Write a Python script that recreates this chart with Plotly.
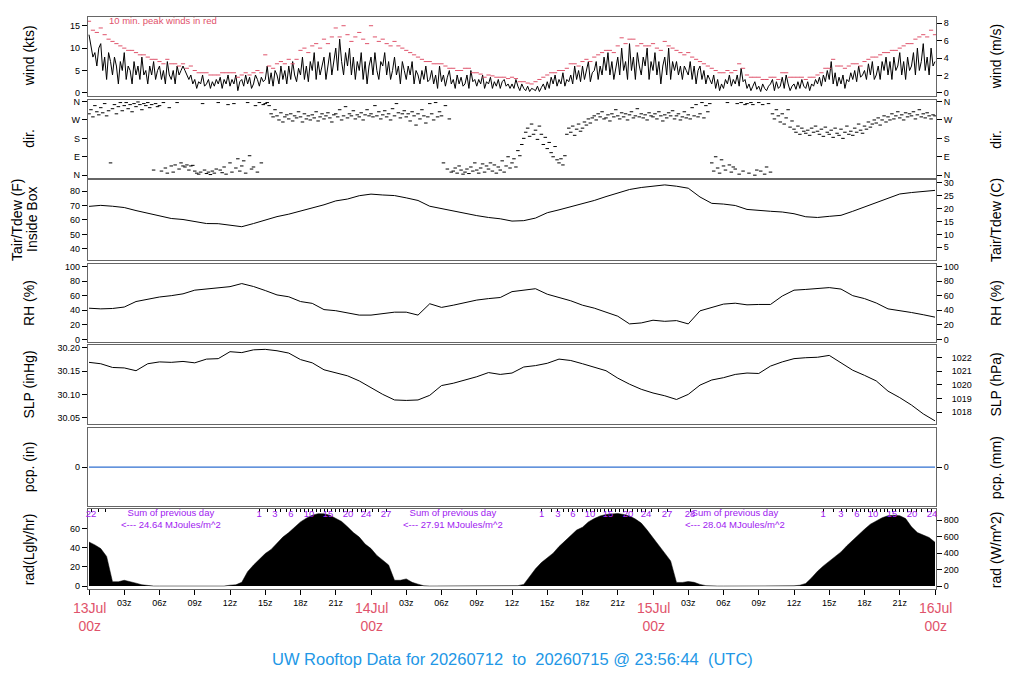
import numpy as np
import plotly.graph_objects as go

# wind speed (kts), 10-minute samples starting 13Jul 00z
wind_d1 = [13, 10, 8, 9, 6, 10, 11, 5, 8, 3, 9, 7, 4, 8, 6, 2, 7, 5, 9, 3, 6, 5, 2, 7,
           4, 6, 3, 8, 4, 5, 2, 6, 4, 7, 3, 5, 6, 3, 5, 2, 7, 4, 3, 5, 2, 6, 4, 5,
           6, 5, 4, 3, 4, 2, 3, 1, 2.5, 2, 4, 1.5, 2, 3, 1, 2.5, 1.5, 3, 2, 3.5, 1, 3, 2, 4,
           1.5, 3, 2, 4, 0.5, 2.5, 3, 1.5, 4, 2, 3.5, 1, 2, 4, 3, 1.5, 3.5, 2.5, 3, 6, 2, 4.5, 1.5, 5,
           4, 2, 6, 3, 5, 2, 6, 3, 7, 4, 2.5, 5.5, 4, 8, 3, 6, 2.5, 7, 5, 9, 3, 7, 4, 6,
           8, 3, 6, 9, 4, 7, 10, 5, 12, 7, 4, 9, 6, 10, 4, 8, 3, 7, 5, 9, 3, 7, 2, 6]
wind_d2 = [8, 4, 9, 5, 3, 7, 6, 9, 4, 7, 3, 5, 8, 4, 6, 2, 7, 5, 3, 6, 4, 7, 2, 5,
           4, 2, 5, 3, 6, 2.5, 3, 5, 2, 4, 1, 6, 2.5, 4, 1.5, 3.5, 5, 2, 3, 1, 4, 2, 3.5, 1.5,
           2, 4, 1, 5, 2.5, 3, 1.5, 3, 2, 4, 1, 2.5, 2, 3.5, 1, 2.5, 1.5, 3, 1, 2.5, 3, 1.5, 2, 1,
           2, 1, 3, 1.5, 0.5, 2, 1, 0.5, 1.5, 0.3, 1, 0.8, 0.5, 1.5, 0.3, 1.2, 2, 0.7,
           2.5, 1, 3.5, 2, 4, 1.5, 3, 2, 4.5, 1.5, 3, 2.5, 4, 2, 6, 3, 5, 2.5, 6, 3, 5, 7, 2.5, 4.5,
           5, 7, 3, 6, 4, 8, 5, 9, 4, 7, 3, 6, 8, 4, 10, 5, 7, 3, 11, 5, 8, 3, 9, 6, 4, 8, 6, 10, 3, 7]
wind_d3 = [5, 9, 4, 7, 2, 6, 8, 4, 10, 3, 7, 5, 7, 4, 6, 3, 6, 5, 4, 7, 3, 6, 2, 5,
           6, 3, 5, 2, 4, 3, 2, 4, 1, 3, 0.5, 2, 1, 3, 2, 4, 1.5, 3, 2, 4, 1.5, 5.5, 2.5, 3,
           1, 2, 0.5, 1.5, 2.5, 0.8, 1.5, 0.3, 2, 1, 0.5, 1.5, 2, 3, 0.5, 2.5, 1, 1.5,
           3.5, 1, 4, 2, 0.5, 1.5, 2, 0.8, 2.5, 1, 3, 1.5, 1, 2.5, 0.5, 2, 1.5, 3,
           2, 3.5, 1.5, 4, 2.5, 5, 3, 7, 2, 4.5, 1.5, 3.5, 2, 4, 1, 3, 2.5, 4.5, 3, 5, 2.5, 6, 3.5, 4,
           5, 3, 6.5, 4, 7, 3, 4, 6, 3, 7, 5, 8, 4, 7, 3, 8, 5, 6, 9, 4, 7, 3, 8, 5,
           6, 9, 4, 10, 5, 7, 11, 5, 8, 4, 10, 6, 7]

# 10 min. peak winds (kts), 20-minute samples
peak_d1 = [16, 14, 13.5, 14.5, 13, 12, 11.5, 11, 10.5, 10, 9.5, 9.5, 9, 8.5, 8.5, 8, 7.5, 7.5,
           7, 6.5, 7.5, 6.5, 6.5, 6, 6.5, 5.5, 6, 5, 4.5, 4.5, 4.5, 4, 4, 4, 4.5, 4.5,
           4.5, 4.5, 3.5, 4, 4.5, 4, 4.5, 5, 4.5, 8.5, 6, 5.5, 6.5, 7, 6.5, 7.5, 6.5, 7.5,
           9.5, 10, 9, 10.5, 11, 10, 12, 11, 12.5, 14.5, 12.5, 15, 13, 11.5, 12.5, 13.5, 12, 11]
peak_d2 = [15, 12.5, 11.5, 12, 11, 10.5, 11.5, 10.5, 10, 9.5, 9, 8.5, 8, 7.5, 7, 7, 6.5, 6.5,
           6.5, 6, 5.5, 5.5, 5, 5, 5.5, 5.5, 4.5, 4.5, 4.2, 3.5, 4, 3.8, 3.5, 3.5, 3.5, 3.2,
           3.5, 3.2, 2.5, 2.5, 2.2, 2, 2.5, 3, 3.5, 4, 4.5, 4.5, 5, 5, 5.5, 6.5, 6.5, 6,
           7, 7.5, 7, 8, 8.5, 9, 9.5, 9.5, 9, 10.5, 12.3, 11, 12, 12, 10.5, 11, 10.5, 10.5]
peak_d3 = [11, 10, 9.5, 11.5, 10.5, 10, 9.5, 9, 8.5, 9, 8, 7.5, 7, 6.5, 6, 5.5, 5, 4.5,
           4.5, 5, 4.5, 5, 6.5, 5.5, 4, 3.5, 3.5, 3.5, 3, 3, 3.5, 3.5, 3, 4.5, 4.5, 3.5,
           3.5, 3.5, 3.5, 3, 3.5, 3.5, 4, 4.5, 5.5, 5.5, 7.5, 6, 6, 5.5, 6, 6.5, 6.5, 6,
           7, 7.5, 8, 8, 8.5, 9, 9, 9.5, 9.5, 10, 10.5, 11, 11, 12, 12.5, 13, 12.5, 14, 13]

# wind direction (deg), 10-minute samples
dir_d1 = [300, 320, 285, 340, 310, 295, 330, 305, 350, 290, 315, 60, 325, 345, 300, 335, 355, 315,
          340, 355, 325, 345, 310, 350, 335, 358, 345, 320, 350, 340, 355, 330, 345, 25, 350, 335,
          340, 20, 355, 35, 10, 330, 45, 15, 50, 355, 30, 60, 45, 40, 50, 25, 45, 48,
          20, 10, 5, 15, 350, 25, 8, 15, 3, 20, 10, 30, 355, 25, 12, 40, 5, 345,
          60, 15, 350, 35, 80, 20, 45, 70, 10, 355, 95, 30, 40, 340, 15, 355, 60, 345,
          350, 355, 340, 300, 285, 320, 290, 270, 305, 260, 285, 295, 275, 300, 265, 290, 280, 310,
          285, 260, 300, 275, 290, 270, 295, 280, 310, 265, 285, 300, 275, 290, 305, 280, 260, 295,
          300, 285, 320, 270, 290, 335, 280, 300, 290, 315, 275, 295, 285, 305, 270, 295, 320, 290]
dir_d2 = [300, 285, 340, 290, 310, 275, 295, 315, 285, 300, 270, 325, 290, 350, 305, 280, 300, 315,
          285, 300, 265, 310, 290, 245, 300, 275, 320, 290, 255, 285, 350, 300, 270, 355, 285, 310,
          290, 60, 340, 30, 275, 15, 20, 35, 10, 45, 25, 5, 15, 30, 8, 40, 20, 60,
          25, 10, 35, 55, 15, 45, 30, 60, 20, 50, 10, 40, 25, 70, 15, 45, 90, 35,
          60, 80, 40, 120, 95, 150, 180, 210, 230, 190, 250, 200, 220, 175, 240, 200, 150, 185,
          130, 160, 110, 90, 140, 75, 60, 80, 50, 95, 200, 230, 210, 240, 195, 225, 250, 215,
          230, 260, 245, 275, 255, 280, 290, 270, 300, 285, 310, 275, 280, 295, 265, 300, 285, 320,
          290, 275, 305, 285, 300, 270, 295, 310, 280, 290, 325, 285, 300, 280, 295, 270, 305, 290]
dir_d3 = [285, 300, 275, 310, 290, 265, 295, 280, 305, 290, 315, 275, 290, 300, 270, 285, 310, 280,
          295, 275, 330, 290, 345, 285, 300, 355, 280, 340, 310, 350, 60, 20, 90, 35, 10, 75,
          45, 25, 355, 50, 15, 40, 30, 350, 5, 355, 20, 345, 350, 10, 355, 345, 0, 25,
          355, 20, 345, 5, 40, 350, 15, 300, 275, 320, 290, 260, 300, 250, 280, 320, 235, 265,
          225, 210, 240, 200, 230, 215, 205, 220, 195, 230, 210, 240, 215, 200, 225, 190, 235, 210,
          200, 220, 185, 230, 205, 195, 225, 180, 210, 240, 200, 215, 195, 230, 210, 250, 220, 205,
          240, 225, 260, 235, 250, 270, 255, 280, 245, 270, 290, 260, 285, 270, 300, 275, 290, 310,
          280, 295, 270, 305, 285, 300, 290, 310, 275, 295, 320, 285, 300, 280, 305, 290, 275, 295, 290]

# hourly air temperature inside box (F)
temp_f = [69.4, 70.1, 69.5, 68.6, 66.5, 64.5, 62.5, 61.0, 60.3, 58.8, 57.5, 57.4, 56.5, 55.3,
          57.5, 60.0, 62.3, 64.0, 66.0, 68.5, 70.5, 73.2, 74.5, 76.8, 77.9, 77.3, 76.9, 75.3,
          73.5, 69.5, 67.8, 66.2, 64.5, 63.0, 61.7, 60.8, 59.2, 59.5, 61.3, 65.0, 67.0, 69.1,
          71.0, 73.5, 76.2, 78.5, 81.1, 82.5, 83.5, 84.3, 83.4, 82.0, 75.9, 71.5, 71.0, 70.0,
          67.3, 66.5, 66.0, 65.5, 64.3, 62.2, 61.7, 62.5, 63.2, 66.0, 69.0, 71.5, 74.5, 78.0,
          79.0, 80.0, 80.5]
# hourly relative humidity (%)
rh_pct = [42.9, 42.0, 42.5, 44.5, 52.0, 55.5, 58.2, 60.0, 62.5, 67.5, 68.8, 70.5, 72.3, 76.5,
          72.5, 67.0, 61.0, 58.5, 52.0, 49.5, 41.0, 39.5, 37.0, 33.5, 33.5, 36.0, 37.5, 37.5,
          33.5, 49.0, 44.0, 47.0, 50.5, 54.0, 56.0, 57.5, 65.5, 67.5, 69.5, 62.0, 57.8, 53.0,
          47.0, 43.0, 37.5, 32.0, 21.5, 22.8, 26.5, 25.0, 26.0, 21.5, 39.3, 43.5, 48.5, 49.7,
          47.5, 48.0, 48.0, 59.5, 67.5, 68.5, 69.5, 71.0, 69.0, 60.0, 56.0, 50.0, 42.0, 39.8,
          37.0, 34.0, 30.7]
# hourly sea level pressure (inHg)
slp_inhg = [30.169, 30.166, 30.158, 30.157, 30.151, 30.166, 30.170, 30.169, 30.171, 30.168,
            30.176, 30.177, 30.192, 30.190, 30.196, 30.197, 30.194, 30.189, 30.175, 30.168,
            30.153, 30.146, 30.140, 30.129, 30.114, 30.100, 30.088, 30.087, 30.088, 30.098,
            30.119, 30.124, 30.131, 30.138, 30.147, 30.143, 30.146, 30.159, 30.162, 30.167,
            30.176, 30.173, 30.166, 30.158, 30.151, 30.135, 30.122, 30.111, 30.103, 30.097,
            30.089, 30.100, 30.120, 30.131, 30.136, 30.143, 30.146, 30.145, 30.161, 30.170,
            30.177, 30.179, 30.180, 30.184, 30.168, 30.152, 30.141, 30.129, 30.107, 30.093,
            30.077, 30.058, 30.043]
# precipitation (in)
pcp_hours = [0, 72]
pcp_in = [0.0, 0.0]
# solar radiation (W/m^2), half-hourly
rad_wm2 = [535, 500, 455, 360, 52, 52, 70, 55, 35, 15, 3,
           0, 0, 0, 0, 0, 0, 0, 0, 0, 0, 0, 0, 0,
           10, 15, 45, 175, 255, 325, 395, 445, 525, 595, 650, 710, 780, 825, 860, 880,
           878, 860, 825, 785, 720, 650, 595, 510,
           455, 372, 315, 255, 70, 70, 87, 45, 23, 3,
           0, 0, 0, 0, 0, 0, 0, 0, 0, 0, 0, 0, 0, 0,
           2, 5, 20, 110, 210, 285, 340, 400, 480, 550, 615, 680, 715, 780, 820, 852,
           870, 880, 882, 870, 852, 815, 765, 680,
           590, 490, 400, 305, 44, 44, 55, 45, 20, 5,
           0, 0, 0, 0, 0, 0, 0, 0, 0, 0, 0, 0, 0, 0,
           3, 10, 32, 100, 180, 245, 305, 360, 415, 490, 560, 630, 690, 752, 795, 830,
           855, 860, 855, 820, 720, 650, 620, 590, 532]

# cumulative MJ/m^2 marks for each day
mj_hours = [0.17, 0.79, 1.42,
            14.47, 15.23, 15.83, 16.34, 16.77, 17.19, 17.62, 17.99, 18.38, 18.72, 19.06, 19.40,
            19.70, 20.04, 20.34, 20.68, 21.02, 21.36, 21.70, 22.04, 22.43, 22.81, 23.19, 23.57,
            24.09, 24.60, 25.28,
            38.53, 39.32, 39.91, 40.34, 40.77, 41.19, 41.57, 41.96, 42.30, 42.64, 42.98, 43.28,
            43.57, 43.87, 44.17, 44.51, 44.85, 45.19, 45.53, 45.87, 46.26, 46.64, 47.02, 47.40,
            47.91, 48.51, 49.20, 51.15,
            62.47, 63.32, 64.00, 64.47, 64.94, 65.36, 65.70, 66.04, 66.38, 66.72, 67.06, 67.40,
            67.70, 67.99, 68.34, 68.68, 69.02, 69.36, 69.70, 70.04, 70.43, 70.85, 71.32, 71.74]
mj_values = [22, 23, 24] + list(range(1, 28)) + list(range(1, 29)) + list(range(1, 25))
mj_shown = [1, 3, 6, 10, 15, 20, 24, 27, 28]
sum_hours = [7, 31, 55]
sum_mj = [24.64, 27.91, 28.04]
day_hours = [0, 24, 48, 72]
day_names = ["13Jul", "14Jul", "15Jul", "16Jul"]

KTS2MS = 0.514444
INHG2HPA = 33.8639
LY2WM2 = 11.63
FONT = "Liberation Sans, Arial, sans-serif"
RED = "#DF536B"
PURPLE = "#A020F0"
BORDER = "#666666"

# the page body has an 8px margin, so pixel positions below are screen pixels
OFF = 8
rows = [(14, 93), (97, 176), (178, 258), (262, 341), (344, 423), (427, 506), (509, 589)]
doms = [[(589 - b) / 575, (589 - t) / 575] for t, b in rows]
XR = [-0.085, 72.085]


def px_x(p):
    return (p - 88) / 848


def px_y(p):
    return (589 - p) / 575


wind = np.array(wind_d1 + wind_d2 + wind_d3, dtype=float)
peak = np.array(peak_d1 + peak_d2 + peak_d3, dtype=float)
wdir = np.array(dir_d1 + dir_d2 + dir_d3, dtype=float)
rad = np.array(rad_wm2, dtype=float)
t_wind = np.linspace(0, 72, len(wind))
t_peak = np.linspace(0, 72, len(peak))
t_dir = np.linspace(0, 72, len(wdir))
t_hr = np.linspace(0, 72, len(temp_f))
t_rad = np.linspace(0, 72, len(rad))

BLK = dict(color="black", width=1)
fig = go.Figure()


def add(x, y, xa, ya, ghost=False, **kw):
    if ghost:
        kw = dict(mode="lines", line=dict(width=0), opacity=0)
    fig.add_trace(go.Scatter(x=x, y=y, xaxis=xa, yaxis=ya, hoverinfo="skip", **kw))


add(t_wind, wind, "x", "y", mode="lines", line=BLK)
add(t_peak, peak, "x", "y", mode="markers",
    marker=dict(symbol="line-ew", size=3, line=dict(color=RED, width=1)))
add(t_wind, wind * KTS2MS, "x", "y8", ghost=True)
add(t_dir, wdir, "x2", "y2", mode="markers",
    marker=dict(symbol="line-ew", size=2.5, line=dict(color="black", width=1)))
add(t_dir, wdir, "x2", "y9", ghost=True)
add(t_hr, temp_f, "x3", "y3", mode="lines", line=BLK)
add(t_hr, (np.array(temp_f) - 32) / 1.8, "x3", "y10", ghost=True)
add(t_hr, rh_pct, "x4", "y4", mode="lines", line=BLK)
add(t_hr, rh_pct, "x4", "y11", ghost=True)
add(t_hr, slp_inhg, "x5", "y5", mode="lines", line=BLK)
add(t_hr, np.array(slp_inhg) * INHG2HPA, "x5", "y12", ghost=True)
add(pcp_hours, pcp_in, "x6", "y6", mode="lines", line=dict(color="#2F6FD0", width=1.2))
add(pcp_hours, np.array(pcp_in) * 25.4, "x6", "y13", ghost=True)
add(t_rad, rad / LY2WM2, "x7", "y7", mode="lines", fill="tozeroy", fillcolor="black",
    line=dict(color="black", width=0.5))
add(t_rad, rad, "x7", "y14", ghost=True)
add(t_rad, rad / LY2WM2, "x8", "y7", ghost=True)

tick_font = dict(family=FONT, size=9, color="black")
NWSE = dict(tickvals=[0, 90, 180, 270, 360], ticktext=["N", "E", "S", "W", "N"])
left = [
    dict(range=[-0.6, 16.95], tickvals=[0, 5, 10, 15]),
    dict(range=[-14.6, 369.7], **NWSE),
    dict(range=[32.4, 87.6], tickvals=[40, 50, 60, 70, 80]),
    dict(range=[-3.6, 103.6], tickvals=[0, 20, 40, 60, 80, 100]),
    dict(range=[30.0365, 30.2058], tickvals=[30.05, 30.10, 30.15, 30.20], tickformat=".2f"),
    dict(range=[-1, 1], tickvals=[0]),
    dict(range=[-3.1, 80.1], tickvals=[0, 20, 40, 60]),
]
right = [
    dict(range=[-0.6 * KTS2MS, 16.95 * KTS2MS], tickvals=[0, 2, 4, 6, 8]),
    dict(range=[-14.6, 369.7], **NWSE),
    dict(range=[(32.4 - 32) / 1.8, (87.6 - 32) / 1.8], tickvals=[5, 10, 15, 20, 25, 30]),
    dict(range=[-3.6, 103.6], tickvals=[0, 20, 40, 60, 80, 100]),
    dict(range=[30.0365 * INHG2HPA, 30.2058 * INHG2HPA], tickvals=[1018, 1019, 1020, 1021, 1022],
         ticklabelstandoff=8),
    dict(range=[-25.4, 25.4], tickvals=[0]),
    dict(range=[-3.1 * LY2WM2, 80.1 * LY2WM2], tickvals=[0, 200, 400, 600, 800]),
]

layout = {}
for i in range(1, 8):
    xs = "" if i == 1 else str(i)
    xa = dict(domain=[0, 1], range=XR, anchor="y" + xs, showline=True, mirror=True,
              linecolor=BORDER, linewidth=1.2, showgrid=False, zeroline=False,
              ticks="", showticklabels=False)
    if i == 7:
        tv = list(range(0, 73, 3))
        xa.update(ticks="outside", ticklen=5, tickcolor="black", showticklabels=True,
                  tickvals=tv, ticktext=["" if h % 24 == 0 else "%02dz" % (h % 24) for h in tv],
                  tickfont=tick_font)
    layout["xaxis" + xs] = xa
    ya = dict(domain=doms[i - 1], anchor="x" + xs, showgrid=False, zeroline=False,
              showline=True, mirror=True, linecolor=BORDER, linewidth=1.2,
              ticks="outside", ticklen=5, tickcolor="black", tickfont=tick_font)
    ya.update(left[i - 1])
    layout["yaxis" + xs] = ya
    yr = dict(overlaying="y" + xs, side="right", anchor="x" + xs, showgrid=False,
              zeroline=False, showline=False, ticks="outside", ticklen=5, tickcolor="black",
              tickfont=tick_font)
    yr.update(right[i - 1])
    layout["yaxis" + str(i + 7)] = yr

# the first day continues the previous day's total, only its first mark is labelled
mj_text = []
for h, v in zip(mj_hours, mj_values):
    if h < 2:
        mj_text.append(str(v) if v == 22 else "")
    else:
        mj_text.append(str(v) if v in mj_shown else "")

layout["xaxis8"] = dict(overlaying="x7", side="top", anchor="y7", range=XR, showgrid=False,
                        zeroline=False, showline=False, ticks="inside", ticklen=3,
                        tickcolor="black", ticklabelposition="inside", tickangle=0,
                        ticklabeloverflow="allow", ticklabelstandoff=-3,
                        tickvals=mj_hours, ticktext=mj_text,
                        tickfont=dict(family=FONT, size=9.5, color=PURPLE))

ann = []
left_titles = ["wind (kts)", "dir.", "Inside Box", "RH (%)", "SLP (inHg)",
               "pcp. (in)", "rad(Lgly/hr)"]
right_titles = ["wind (m/s)", "dir.", "Tair/Tdew (C)", "RH (%)", "SLP (hPa)", "pcp. (mm)",
                "rad (W/m^2)"]
title_font = dict(family=FONT, size=14, color="black")
for i in range(7):
    yc = sum(doms[i]) / 2
    ann.append(dict(text=left_titles[i], x=px_x(32 if i == 2 else 29), y=yc, xref="paper",
                    yref="paper", xanchor="center", yanchor="middle", textangle=-90,
                    showarrow=False, font=title_font))
    ann.append(dict(text=right_titles[i], x=px_x(996), y=yc, xref="paper", yref="paper",
                    xanchor="center", yanchor="middle", textangle=-90, showarrow=False,
                    font=title_font))
ann.append(dict(text="Tair/Tdew (F)", x=px_x(17), y=sum(doms[2]) / 2, xref="paper",
                yref="paper", xanchor="center", yanchor="middle", textangle=-90,
                showarrow=False, font=title_font))

for h, name in zip(day_hours, day_names):
    ann.append(dict(text=name + "<br>00z", x=h, y=px_y(598), xref="x7", yref="paper",
                    xanchor="center", yanchor="top", showarrow=False,
                    font=dict(family=FONT, size=14, color=RED)))

for h, s in zip(sum_hours, sum_mj):
    ann.append(dict(text="Sum of previous day<br>&lt;--- %.2f MJoules/m^2" % s, x=h,
                    y=px_y(505), xref="x7", yref="paper", xanchor="center", yanchor="top",
                    showarrow=False, font=dict(family=FONT, size=9.5, color=PURPLE)))

ann.append(dict(text="10 min. peak winds in red", x=1.5, y=16.2, xref="x", yref="y",
                xanchor="left", yanchor="middle", showarrow=False,
                font=dict(family=FONT, size=9.5, color=RED)))
ann.append(dict(text="UW Rooftop Data for 20260712  to  20260715 @ 23:56:44  (UTC)",
                x=0.5, y=px_y(659), xref="paper", yref="paper", xanchor="center",
                yanchor="middle", showarrow=False,
                font=dict(family=FONT, size=16.5, color="#2297E6")))

fig.update_layout(width=1024 - 2 * OFF, height=700 - 2 * OFF,
                  margin=dict(l=88 - OFF, r=1024 - OFF - 936, t=14 - OFF, b=700 - OFF - 589),
                  plot_bgcolor="white", paper_bgcolor="white", showlegend=False,
                  font=dict(family=FONT), annotations=ann, **layout)
fig.write_html("out.html")
